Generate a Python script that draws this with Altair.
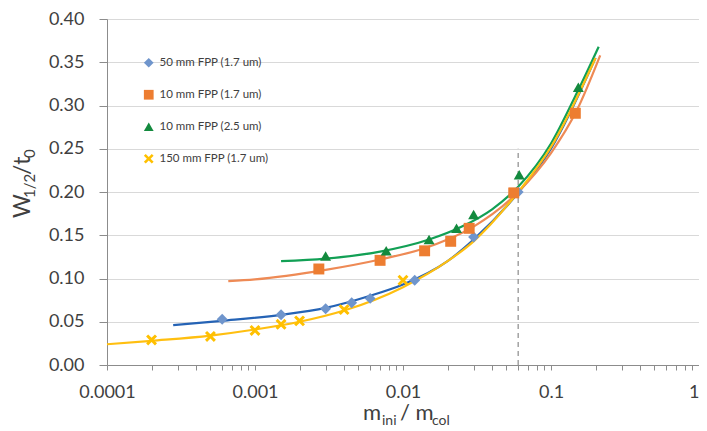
import altair as alt
import pandas as pd

# ---------------- data ----------------
series_names = ["50 mm FPP (1.7 um)", "10 mm FPP (1.7 um)",
                "10 mm FPP (2.5 um)", "150 mm FPP (1.7 um)"]

# measured points
blue_x = [0.0006, 0.0015, 0.003, 0.0045, 0.006, 0.012, 0.03, 0.06]
blue_y = [0.053, 0.058, 0.065, 0.072, 0.077, 0.098, 0.148, 0.200]
orange_x = [0.0027, 0.007, 0.014, 0.021, 0.028, 0.056, 0.146]
orange_y = [0.111, 0.121, 0.132, 0.143, 0.158, 0.199, 0.291]
green_x = [0.003, 0.0077, 0.015, 0.023, 0.030, 0.061, 0.153]
green_y = [0.126, 0.132, 0.145, 0.158, 0.174, 0.220, 0.321]
yellow_x = [0.0002, 0.0005, 0.001, 0.0015, 0.002, 0.004, 0.01]
yellow_y = [0.029, 0.033, 0.040, 0.047, 0.051, 0.064, 0.098]

# fitted curves
curve_blue_x = [0.00028, 0.0006, 0.0015, 0.003, 0.006, 0.01, 0.02, 0.03, 0.06, 0.1, 0.2]
curve_blue_y = [0.046, 0.051, 0.058, 0.066, 0.080, 0.093, 0.120, 0.145, 0.199, 0.250, 0.355]
curve_orange_x = [0.00066, 0.001, 0.003, 0.007, 0.014, 0.02, 0.03, 0.06, 0.1, 0.15, 0.215]
curve_orange_y = [0.097, 0.099, 0.110, 0.122, 0.135, 0.145, 0.160, 0.200, 0.245, 0.295, 0.358]
curve_green_x = [0.0015, 0.003, 0.007, 0.015, 0.025, 0.04, 0.06, 0.1, 0.15, 0.21]
curve_green_y = [0.120, 0.123, 0.131, 0.145, 0.160, 0.180, 0.206, 0.256, 0.315, 0.368]
curve_yellow_x = [0.0001, 0.0002, 0.0005, 0.001, 0.002, 0.004, 0.01, 0.02, 0.03, 0.06, 0.1, 0.2]
curve_yellow_y = [0.024, 0.028, 0.034, 0.041, 0.050, 0.063, 0.090, 0.120, 0.143, 0.200, 0.252, 0.355]

vline_x = [0.06]
vline_top = [0.25]

y_ticks = [0, 0.05, 0.10, 0.15, 0.20, 0.25, 0.30, 0.35, 0.40]
x_decades = [0.0001, 0.001, 0.01, 0.1, 1]
x_decade_labels = ["0.0001", "0.001", "0.01", "0.1", "1"]

# ---------------- styling ----------------
marker_colors = ["#6F95CC", "#ED7D31", "#138A3E", "#FFC000"]
line_colors = ["#2563B5", "#EE8A55", "#12A055", "#FFBF10"]
X_PATH = ("M-1,-0.62L-0.62,-1L0,-0.38L0.62,-1L1,-0.62L0.38,0L1,0.62L0.62,1"
          "L0,0.38L-0.62,1L-1,0.62L-0.38,0Z")
shapes = ["diamond", "square", "triangle-up", X_PATH]
FONT = "Lato"
TXT = "#404040"

# ---------------- tables ----------------
pt_rows = []
for name, xs, ys in zip(series_names, [blue_x, orange_x, green_x, yellow_x],
                        [blue_y, orange_y, green_y, yellow_y]):
    for a, b in zip(xs, ys):
        pt_rows.append({"series": name, "x": a, "y": b})
pts = pd.DataFrame(pt_rows)

curve_sets = list(zip(series_names,
                      [curve_blue_x, curve_orange_x, curve_green_x, curve_yellow_x],
                      [curve_blue_y, curve_orange_y, curve_green_y, curve_yellow_y],
                      line_colors))

vline = pd.DataFrame({"x": vline_x, "y": [0.0], "y2": vline_top})

x_tick_values = []
for d in x_decades[:-1]:
    for k in range(1, 10):
        x_tick_values.append(d * k if k > 1 else d)
x_tick_values.append(x_decades[-1])

label_expr = ""
for v, lab in zip(x_decades, x_decade_labels):
    label_expr += f"datum.value == {v} ? '{lab}' : "
label_expr += "''"

xscale = alt.Scale(type="log", domain=[0.0001, 1], nice=False)
yscale = alt.Scale(domain=[0, 0.4], nice=False, zero=True)

x_axis = alt.Axis(values=x_tick_values, labelExpr=label_expr, grid=False,
                  tickSize=5, labelPadding=13, labelFontSize=18, labelFont=FONT,
                  labelColor=TXT, title=None, labelOverlap=False,
                  domainColor="#8C8C8C", tickColor="#8C8C8C",
                  labelAlign={"condition": {"test": "datum.value == 1", "value": "right"},
                              "value": "center"})
y_axis = alt.Axis(values=y_ticks, format=".2f", grid=True, gridColor="#D9D9D9",
                  tickSize=8, labelPadding=15, labelFontSize=18, labelFont=FONT,
                  labelColor=TXT, title=None, domainColor="#8C8C8C", tickColor="#8C8C8C")

rule = alt.Chart(vline).mark_rule(color="#8C8C8C", strokeDash=[5, 4], strokeWidth=1.2).encode(
    x=alt.X("x:Q", scale=xscale, axis=x_axis),
    y=alt.Y("y:Q", scale=yscale, axis=y_axis), y2="y2:Q")

line_layers = []
for name, xs, ys, col in curve_sets:
    df = pd.DataFrame({"x": xs, "y": ys})
    line_layers.append(alt.Chart(df).mark_line(
        strokeWidth=2.2, interpolate="monotone", color=col).encode(
        x=alt.X("x:Q", scale=xscale), y=alt.Y("y:Q", scale=yscale)))

legend_cfg = dict(title=None, orient="none", legendX=36, legendY=38,
                  labelFont=FONT, labelFontSize=11.5, labelColor=TXT,
                  symbolSize=95, rowPadding=19, labelOffset=5,
                  padding=0, symbolStrokeWidth=0)

points = alt.Chart(pts).mark_point(filled=True, opacity=1, size=120).encode(
    x=alt.X("x:Q", scale=xscale), y=alt.Y("y:Q", scale=yscale),
    color=alt.Color("series:N", scale=alt.Scale(domain=series_names, range=marker_colors),
                    legend=alt.Legend(**legend_cfg)),
    shape=alt.Shape("series:N", scale=alt.Scale(domain=series_names, range=shapes),
                    legend=alt.Legend(**legend_cfg)))

# axis titles with subscripts (pixel positions relative to plot area)
title_parts = [
    ("W", -77, 199, 23, 270), ("1/2", -72, 179, 15, 270),
    ("/t", -77, 156, 23, 270), ("0", -72, 139, 15, 270),
    ("m", 256, 401, 22, 0), ("ini", 275, 406, 14, 0),
    ("/ m", 293, 401, 22, 0), ("col", 325, 406, 14, 0),
]
texts = []
for t, px, py, fs, ang in title_parts:
    texts.append(alt.Chart(alt.Data(values=[{"k": 0}])).mark_text(
        align="left", baseline="alphabetic", font=FONT, fontSize=fs, color=TXT,
        angle=ang).encode(x=alt.value(px), y=alt.value(py), text=alt.value(t)))

chart = alt.layer(rule, *line_layers, points, *texts).properties(
    width=592, height=346,
    padding={"left": 99, "top": 11, "right": 0, "bottom": 66},
    autosize=alt.AutoSizeParams(type="none"),
).configure_view(stroke=None).configure(background="white")

chart.save("out.html", embed_options={"renderer": "svg", "actions": False})
